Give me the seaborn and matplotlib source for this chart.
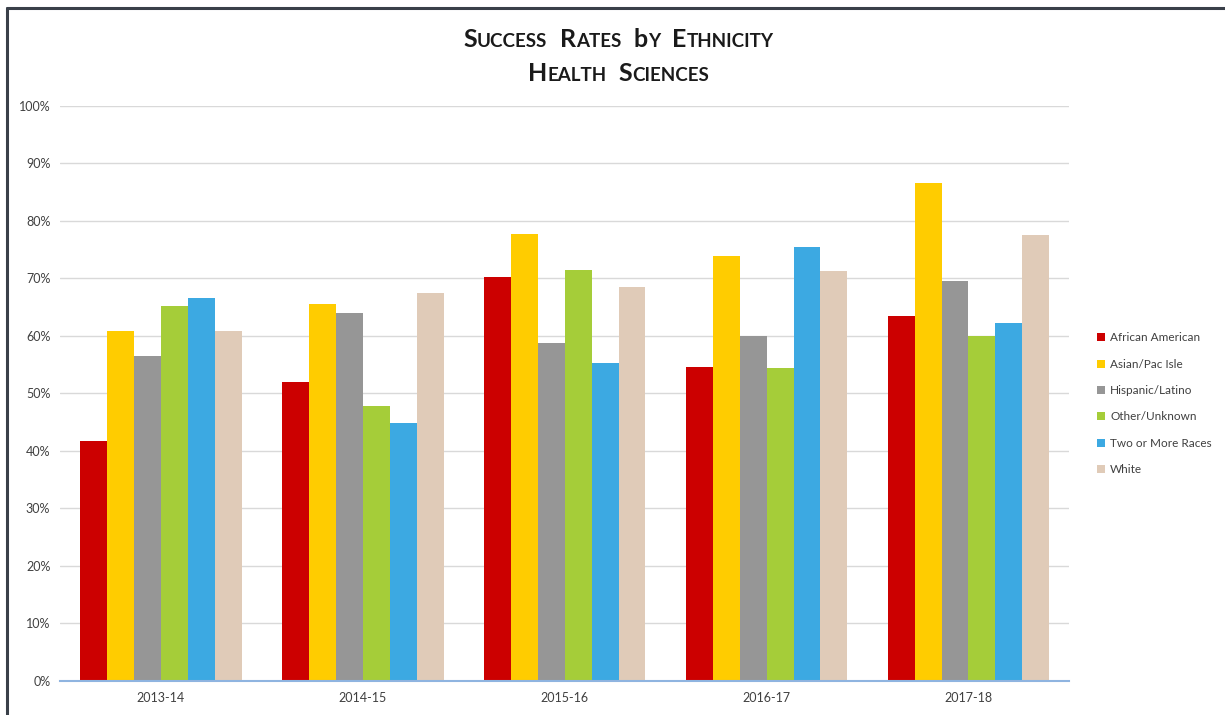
import pandas as pd
import matplotlib
matplotlib.use('Agg')
import matplotlib.pyplot as plt
import seaborn as sns
from matplotlib.offsetbox import TextArea, HPacker, VPacker, AnnotationBbox
from matplotlib.ticker import PercentFormatter

years = ['2013-14', '2014-15', '2015-16', '2016-17', '2017-18']
groups = ['African American', 'Asian/Pac Isle', 'Hispanic/Latino',
          'Other/Unknown', 'Two or More Races', 'White']
african_american = [41.7, 52.0, 70.2, 54.6, 63.5]
asian_pac_isle = [60.9, 65.6, 77.7, 73.9, 86.6]
hispanic_latino = [56.5, 64.0, 58.8, 60.0, 69.6]
other_unknown = [65.2, 47.8, 71.5, 54.4, 60.0]
two_or_more = [66.6, 44.8, 55.3, 75.5, 62.2]
white = [60.9, 67.5, 68.6, 71.3, 77.6]
colors = ['#cc0000', '#ffcc00', '#969696', '#a5cd39', '#3ca9e2', '#e0cbb8']

series = [african_american, asian_pac_isle, hispanic_latino,
          other_unknown, two_or_more, white]
rows = []
for g, vals in zip(groups, series):
    for y, v in zip(years, vals):
        rows.append({'year': y, 'group': g, 'rate': v})
df = pd.DataFrame(rows)

sns.set_style('white')
plt.rcParams['font.family'] = ['Lato', 'DejaVu Sans']

fig = plt.figure(figsize=(12.25, 7.15), dpi=100)
ax = fig.add_axes([0.049, 0.0476, 0.824, 0.8042])

sns.barplot(data=df, x='year', y='rate', hue='group', hue_order=groups,
            palette=colors, width=0.8, linewidth=0, saturation=1, ax=ax)

ax.set_ylim(0, 100)
ax.set_xlim(-0.5, 4.5)
ax.set_yticks(range(0, 101, 10))
ax.yaxis.set_major_formatter(PercentFormatter(decimals=0))
ax.set_xlabel('')
ax.set_ylabel('')
ax.grid(axis='y', color='#d9d9d9', linewidth=1)
ax.set_axisbelow(True)
for s in ['top', 'right', 'left']:
    ax.spines[s].set_visible(False)
ax.spines['bottom'].set_color('#8fb4e0')
ax.spines['bottom'].set_linewidth(1.5)
ax.tick_params(axis='both', length=0, labelsize=9, colors='#404040')
ax.tick_params(axis='y', pad=7)
ax.tick_params(axis='x', pad=8)

ax.legend(loc='center left', bbox_to_anchor=(1.017, 0.482), frameon=False,
          fontsize=8.5, handlelength=0.7, handleheight=0.7, handletextpad=0.4,
          labelspacing=1.3, labelcolor='#404040')


def small_caps(text, big=18, small=13.5):
    parts = []
    for word in text.split(' '):
        letters = [TextArea(word[0], textprops=dict(size=big, weight='bold', color='#1a1a1a'))]
        if len(word) > 1:
            letters.append(TextArea(word[1:].upper(),
                                    textprops=dict(size=small, weight='bold', color='#1a1a1a')))
        parts.append(HPacker(children=letters, pad=0, sep=0, align='baseline'))
    return HPacker(children=parts, pad=0, sep=9, align='baseline')


title = VPacker(children=[small_caps('Success Rates by Ethnicity'),
                          small_caps('Health Sciences')],
                pad=0, sep=8, align='center')
fig.add_artist(AnnotationBbox(title, (0.505, 0.921), xycoords='figure fraction',
                              frameon=False))

# frame border, top and left only
fig.add_artist(plt.Line2D([0.0057, 1], [0.9895, 0.9895], transform=fig.transFigure,
                          color='#3a4049', linewidth=2.2))
fig.add_artist(plt.Line2D([0.0057, 0.0057], [0, 0.9895], transform=fig.transFigure,
                          color='#3a4049', linewidth=2.2))

fig.savefig('out.png', dpi=100)
